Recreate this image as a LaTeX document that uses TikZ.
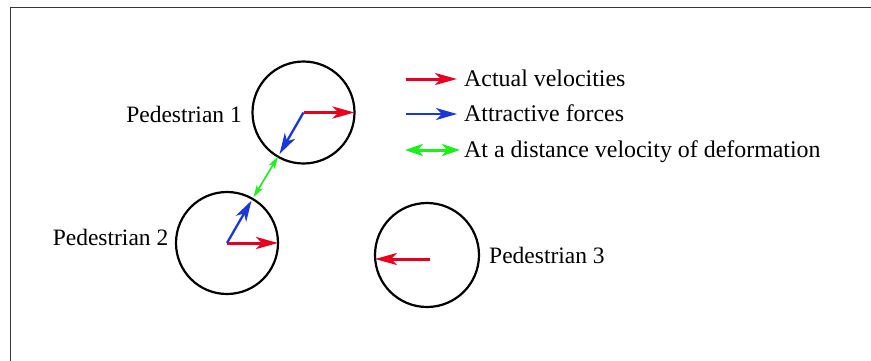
\documentclass[tikz,border=0pt]{standalone}
\usepackage{fontspec}
\setmainfont{Liberation Serif}
\usetikzlibrary{arrows.meta}
\definecolor{vred}{RGB}{232,0,28}
\definecolor{vblue}{RGB}{24,56,222}
\definecolor{vgreen}{RGB}{24,242,24}
\definecolor{framegray}{RGB}{55,55,55}
\begin{document}
\begin{tikzpicture}[x=1pt,y=-1pt,
  ped/.style={circle,draw=black,line width=2.2pt,minimum size=102pt,inner sep=0pt,outer sep=0pt},
  lbl/.style={font=\fontsize{23.5}{28}\selectfont,inner sep=0pt,text=black},
  lgd/.style={font=\fontsize{23.9}{28}\selectfont,inner sep=0pt,text=black},
  vel/.style={vred,line width=3pt,-{Stealth[length=22pt,width=12pt,inset=6pt]}},
  att/.style={vblue,line width=2.3pt,-{Stealth[length=21pt,width=12pt,inset=6pt]}},
  defo/.style={vgreen,line width=1.6pt,{Stealth[length=12pt,width=7pt,inset=3pt]}-{Stealth[length=12pt,width=7pt,inset=3pt]}},
  defolg/.style={vgreen,line width=3pt,{Stealth[length=18pt,width=12pt,inset=5pt]}-{Stealth[length=18pt,width=12pt,inset=5pt]}}
]
\useasboundingbox (0,0) rectangle (871,360);
\fill[white] (0,0) rectangle (871,360);
\draw[framegray,line width=1.5pt] (10.7,362) -- (10.7,7.5) -- (873,7.5);

% pedestrians
\node[ped] (p1) at (303.5,112.5) {};
\node[ped] (p2) at (227,243) {};
\node[ped,minimum size=104pt] (p3) at (427,255) {};

\node[lbl,anchor=base east] (l1) at (242,122.5) {Pedestrian 1};
\node[lbl,anchor=base east] (l2) at (168.5,245) {Pedestrian 2};
\node[lbl,anchor=base west] (l3) at (489,263.3) {Pedestrian 3};

% velocities and forces
\draw[vel] (p1.center) -- (p1.east);
\draw[att,shorten >=3pt] (p1.center) -- (p1.240);
\draw[vel] (p2.center) -- (p2.east);
\draw[att,shorten >=2pt] (p2.center) -- (p2.60);
\draw[defo,shorten >=2pt] (p1.240) -- (p2.60);
\coordinate (p3o) at ([shift={(3,4)}]p3.center);
\draw[vel] (p3o) -- (p3o -| p3.west);

% legend
\node[lgd,anchor=base west] (t1) at (464,86) {Actual velocities};
\node[lgd,anchor=base west] (t2) at (464,121.5) {Attractive forces};
\node[lgd,anchor=base west] (t3) at (464,157) {At a distance velocity of deformation};
\coordinate (a1s) at (406,79);  \coordinate (a1e) at (457,79);
\coordinate (a2s) at (406,114); \coordinate (a2e) at (457,114);
\coordinate (a3s) at (405,150); \coordinate (a3e) at (460,150);
\draw[vel] (a1s) -- (a1e);
\draw[att] (a2s) -- (a2e);
\draw[defolg] (a3s) -- (a3e);
\end{tikzpicture}
\end{document}
